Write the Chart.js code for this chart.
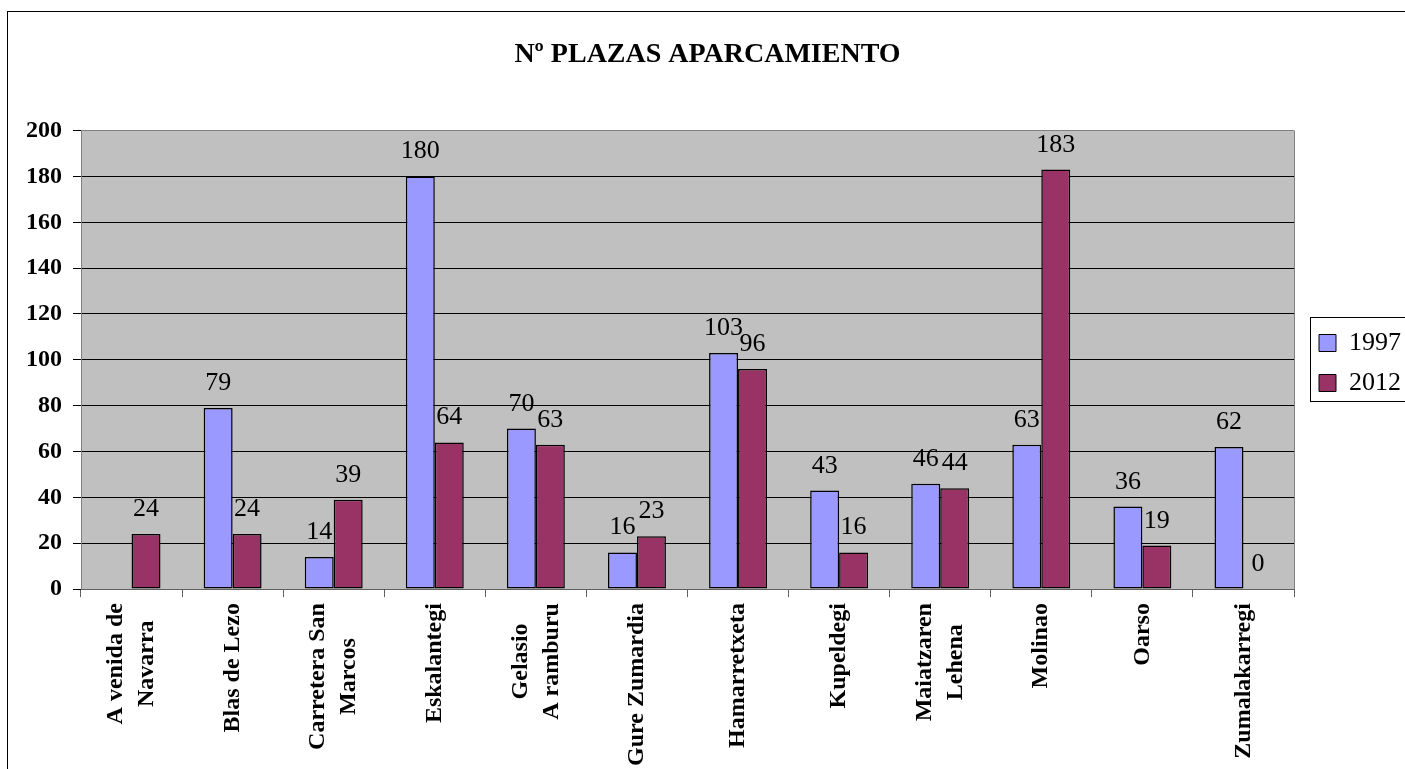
<!DOCTYPE html>
<html>
<head>
<meta charset="utf-8">
<script src="https://cdn.jsdelivr.net/npm/chart.js@4"></script>
<style>
  html, body { margin: 0; padding: 0; background: #fff; }
  #wrap { width: 1405px; height: 769px; }
</style>
</head>
<body>
<div id="wrap"><canvas id="plazasChart" width="1405" height="769"></canvas></div>
<script>
// Datos
const categories = [
    ['A venida de', 'Navarra'],
    'Blas de Lezo',
    ['Carretera San', 'Marcos'],
    'Eskalantegi',
    ['Gelasio', 'A ramburu'],
    'Gure Zumardia',
    'Hamarretxeta',
    'Kupeldegi',
    ['Maiatzaren', 'Lehena'],
    'Molinao',
    'Oarso',
    'Zumalakarregi'
];
const seriesNames = ['1997', '2012'];
const values1997 = [null, 79, 14, 180, 70, 16, 103, 43, 46, 63, 36, 62];
const values2012 = [24, 24, 39, 64, 63, 23, 96, 16, 44, 183, 19, 0];
const yTicks = [0, 20, 40, 60, 80, 100, 120, 140, 160, 180, 200];

const SERIF = '"Liberation Serif", "Times New Roman", serif';
const X_FONT = 'bold 24px ' + SERIF;
const X_LINE = 31;

// Fondo del área de trazado, marco exterior, leyenda y etiquetas del eje X
const marcoPlugin = {
    id: 'marco',
    beforeDraw(chart) {
        const { ctx, chartArea: a } = chart;
        ctx.save();
        ctx.fillStyle = '#fff';
        ctx.fillRect(0, 0, chart.width, chart.height);
        ctx.strokeStyle = '#000';
        ctx.lineWidth = 1;
        ctx.strokeRect(7.5, 11.5, 3000, 3000);
        ctx.fillStyle = '#c0c0c0';
        ctx.fillRect(a.left, a.top, a.right - a.left, a.bottom - a.top);
        ctx.restore();
    },
    afterLayout(chart) {
        // la leyenda va pegada al área de trazado y algo más arriba
        const lg = chart.legend, a = chart.chartArea;
        const dx = (a.right + 11) - lg.left;
        const dy = -19;
        lg.left += dx; lg.right += dx;
        lg.top += dy; lg.bottom += dy;
    },
    beforeDatasetsDraw(chart) {
        const { ctx, chartArea: a } = chart;
        ctx.save();
        ctx.strokeStyle = '#808080';
        ctx.lineWidth = 1;
        ctx.beginPath();
        ctx.moveTo(Math.round(a.right) + 0.5, a.top);
        ctx.lineTo(Math.round(a.right) + 0.5, a.bottom);
        ctx.stroke();
        ctx.restore();
    },
    afterDraw(chart) {
        const { ctx } = chart;
        const hb = chart.legend && chart.legend.legendHitBoxes;
        if (hb && hb.length) {
            const first = hb[0].top + hb[0].height / 2;
            const last = hb[hb.length - 1].top + hb[hb.length - 1].height / 2;
            const left = hb[0].left - 9;
            ctx.save();
            ctx.strokeStyle = '#000';
            ctx.lineWidth = 1;
            ctx.strokeRect(Math.round(left) + 0.5, Math.round(first - 26) + 0.5, 500, Math.round(last - first + 44));
            ctx.restore();
        }
        // etiquetas del eje X: bloque pegado al eje, líneas centradas entre sí
        const xs = chart.scales.x;
        ctx.save();
        ctx.font = X_FONT;
        ctx.fillStyle = '#000';
        ctx.textAlign = 'center';
        ctx.textBaseline = 'middle';
        categories.forEach((lab, i) => {
            const lines = Array.isArray(lab) ? lab : [lab];
            const w = Math.max(...lines.map(t => ctx.measureText(t).width));
            const x = xs.getPixelForTick(i);
            const y = xs.top + 14 + w / 2;
            ctx.save();
            ctx.translate(x, y);
            ctx.rotate(-Math.PI / 2);
            lines.forEach((t, k) => {
                ctx.fillText(t, 0, (k - (lines.length - 1) / 2) * X_LINE);
            });
            ctx.restore();
        });
        ctx.restore();
    }
};

// Etiquetas de valor encima de cada barra
const valoresPlugin = {
    id: 'valores',
    afterDatasetsDraw(chart) {
        const { ctx } = chart;
        ctx.save();
        ctx.font = '26px ' + SERIF;
        ctx.fillStyle = '#000';
        ctx.textAlign = 'center';
        ctx.textBaseline = 'alphabetic';
        chart.data.datasets.forEach((ds, i) => {
            const meta = chart.getDatasetMeta(i);
            meta.data.forEach((bar, j) => {
                const v = ds.data[j];
                if (v === null || v === undefined) return;
                ctx.fillText(String(v), bar.x, bar.y - 18);
            });
        });
        ctx.restore();
    }
};

new Chart(document.getElementById('plazasChart'), {
    type: 'bar',
    data: {
        labels: categories,
        datasets: [{
            label: seriesNames[0],
            data: values1997,
            backgroundColor: '#9999ff',
            borderColor: '#000',
            borderWidth: 1.5,
            borderSkipped: false
        }, {
            label: seriesNames[1],
            data: values2012,
            backgroundColor: '#993366',
            borderColor: '#000',
            borderWidth: 1.5,
            borderSkipped: false
        }]
    },
    options: {
        responsive: false,
        animation: false,
        layout: { padding: { left: 15, right: 5, top: 0, bottom: 5 } },
        datasets: {
            bar: { barPercentage: 1, categoryPercentage: 0.573 }
        },
        plugins: {
            title: {
                display: true,
                text: 'Nº PLAZAS APARCAMIENTO',
                color: '#000',
                font: { family: SERIF, size: 28, weight: 'bold' },
                padding: { top: 38, bottom: 59 }
            },
            legend: {
                position: 'right',
                labels: {
                    color: '#000',
                    font: { family: SERIF, size: 26 },
                    boxWidth: 17,
                    boxHeight: 17,
                    padding: 14,
                    generateLabels(chart) {
                        return chart.data.datasets.map((ds, i) => ({
                            text: ds.label,
                            fillStyle: ds.backgroundColor,
                            strokeStyle: '#000',
                            lineWidth: 1,
                            datasetIndex: i,
                            hidden: false
                        }));
                    }
                }
            },
            tooltip: { enabled: false }
        },
        scales: {
            x: {
                grid: {
                    offset: true,
                    drawOnChartArea: false,
                    drawTicks: true,
                    tickLength: 8,
                    color: '#606060'
                },
                border: { color: '#606060', width: 1 },
                ticks: {
                    autoSkip: false,
                    maxRotation: 90,
                    minRotation: 90,
                    padding: 2,
                    color: 'rgba(0,0,0,0)',
                    font: { family: SERIF, size: 24, weight: 'bold', lineHeight: 1.3 }
                }
            },
            y: {
                min: 0,
                max: 200,
                afterBuildTicks(axis) {
                    axis.ticks = yTicks.map(v => ({ value: v }));
                },
                grid: {
                    color: c => (c.tick && c.tick.value === 200) ? '#808080' : '#000',
                    tickColor: '#000',
                    tickLength: 8,
                    lineWidth: 1
                },
                border: { color: '#808080', width: 1 },
                ticks: {
                    padding: 11,
                    color: '#000',
                    font: { family: SERIF, size: 24, weight: 'bold' }
                }
            }
        }
    },
    plugins: [marcoPlugin, valoresPlugin]
});
</script>
</body>
</html>
